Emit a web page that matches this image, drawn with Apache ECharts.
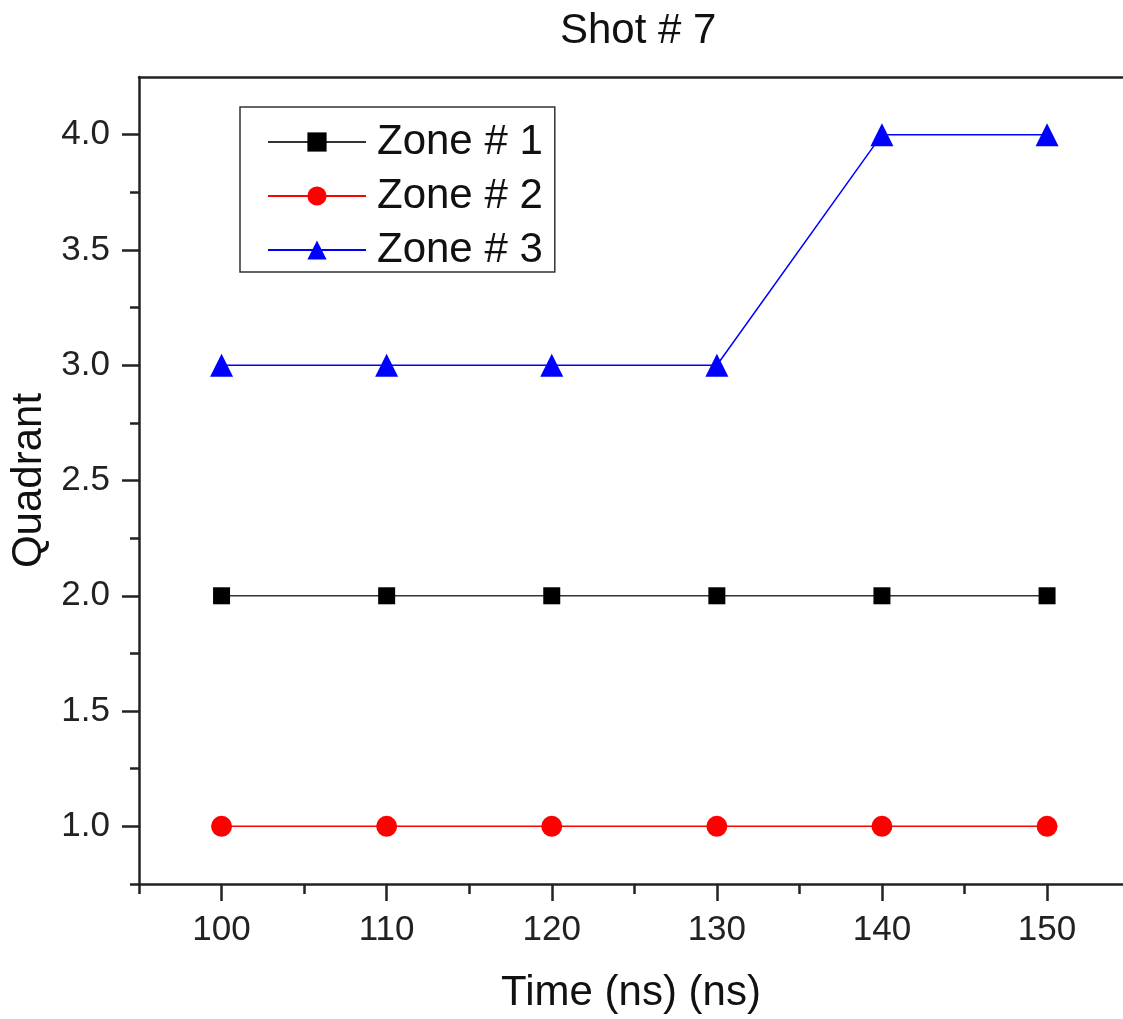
<!DOCTYPE html>
<html>
<head>
<meta charset="utf-8">
<script src="https://cdn.jsdelivr.net/npm/echarts@6/dist/echarts.min.js"></script>
<style>
  html, body { margin: 0; padding: 0; background: #fff; }
  #chart { width: 1123px; height: 1019px; }
</style>
</head>
<body>
<div id="chart"></div>
<script>
// Time in ns and the quadrant reached by each zone
const times = [100, 110, 120, 130, 140, 150];
const zone1 = [2, 2, 2, 2, 2, 2];
const zone2 = [1, 1, 1, 1, 1, 1];
const zone3 = [3, 3, 3, 3, 4, 4];

// Tick positions: labelled major ticks and unlabelled minor ticks
const xMajor = [100, 110, 120, 130, 140, 150];
const xMinor = [95, 105, 115, 125, 135, 145];
const yMajor = [1.0, 1.5, 2.0, 2.5, 3.0, 3.5, 4.0];
const yMinor = [0.75, 1.25, 1.75, 2.25, 2.75, 3.25, 3.75];

const FONT = '"Liberation Sans", Arial, sans-serif';
const INK = '#222';

function pairs(ys) {
  return times.map((t, i) => [t, ys[i]]);
}

const chart = echarts.init(document.getElementById('chart'), null, { renderer: 'canvas' });

const axisLineStyle = { color: INK, width: 2.5 };
const tickStyle = { color: INK, width: 2.5 };

// the frame runs off the right edge of the page, just short of 155 ns
const X_MIN = 95, X_MAX = 154.6, Y_MIN = 0.75, Y_MAX = 4.25;

chart.setOption({
  animation: false,
  backgroundColor: '#ffffff',
  title: {
    text: 'Shot # 7',
    left: 555,
    top: 5,
    textStyle: { fontFamily: FONT, fontSize: 42, fontWeight: 'normal', color: '#111' }
  },
  legend: {
    left: 240,
    top: 107,
    orient: 'vertical',
    itemWidth: 98,
    itemHeight: 24,
    itemGap: 10,
    padding: [13, 12, 0, 27],
    borderColor: '#333',
    borderWidth: 1.5,
    textStyle: { fontFamily: FONT, fontSize: 42, lineHeight: 44, color: '#111', padding: [0, 0, 0, 6] },
    data: ['Zone # 1', 'Zone # 2', 'Zone # 3']
  },
  grid: { left: 139, top: 77, right: 0, height: 808 },
  xAxis: [{
    // main time axis with labelled major ticks
    type: 'value',
    min: X_MIN,
    max: X_MAX,
    position: 'bottom',
    name: 'Time (ns) (ns)',
    nameLocation: 'middle',
    nameGap: 88,
    nameTextStyle: { fontFamily: FONT, fontSize: 42, color: '#111' },
    axisLine: { show: true, onZero: false, lineStyle: axisLineStyle },
    axisTick: { show: true, inside: false, length: 17, lineStyle: tickStyle, customValues: xMajor },
    splitLine: { show: false },
    axisLabel: {
      fontFamily: FONT, fontSize: 35, color: INK, margin: 29,
      customValues: xMajor,
      formatter: v => String(v)
    }
  }, {
    // minor ticks on the time axis
    type: 'value',
    min: X_MIN,
    max: X_MAX,
    position: 'bottom',
    axisLine: { show: false, onZero: false },
    axisTick: { show: true, inside: false, length: 10, lineStyle: tickStyle, customValues: xMinor },
    axisLabel: { show: false },
    splitLine: { show: false }
  }, {
    // top frame line
    type: 'value',
    min: X_MIN,
    max: X_MAX,
    position: 'top',
    axisLine: { show: true, onZero: false, lineStyle: axisLineStyle },
    axisTick: { show: false },
    axisLabel: { show: false },
    splitLine: { show: false }
  }],
  yAxis: [{
    type: 'value',
    min: Y_MIN,
    max: Y_MAX,
    position: 'left',
    name: 'Quadrant',
    nameLocation: 'middle',
    nameGap: 88,
    nameTextStyle: { fontFamily: FONT, fontSize: 42, color: '#111' },
    axisLine: { show: true, onZero: false, lineStyle: axisLineStyle },
    axisTick: { show: true, inside: false, length: 17, lineStyle: tickStyle, customValues: yMajor },
    splitLine: { show: false },
    axisLabel: {
      fontFamily: FONT, fontSize: 35, color: INK, margin: 29,
      customValues: yMajor,
      formatter: v => v.toFixed(1)
    }
  }, {
    // minor ticks on the quadrant axis
    type: 'value',
    min: Y_MIN,
    max: Y_MAX,
    position: 'left',
    axisLine: { show: false, onZero: false },
    axisTick: { show: true, inside: false, length: 9, lineStyle: tickStyle, customValues: yMinor },
    axisLabel: { show: false },
    splitLine: { show: false }
  }],
  series: [{
    name: 'Zone # 1',
    type: 'line',
    data: pairs(zone1),
    symbol: 'rect',
    symbolSize: 17,
    itemStyle: { color: '#000000' },
    lineStyle: { color: '#333333', width: 1.5 }
  }, {
    name: 'Zone # 2',
    type: 'line',
    data: pairs(zone2),
    symbol: 'circle',
    symbolSize: 21,
    itemStyle: { color: '#ff0000' },
    lineStyle: { color: '#ff0000', width: 1.5 }
  }, {
    name: 'Zone # 3',
    type: 'line',
    data: pairs(zone3),
    symbol: 'triangle',
    symbolSize: 23,
    itemStyle: { color: '#0000ff' },
    lineStyle: { color: '#0000ff', width: 1.5 }
  }]
});
</script>
</body>
</html>
